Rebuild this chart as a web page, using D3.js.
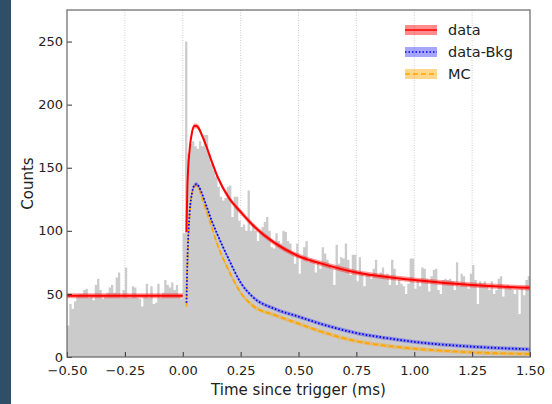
<!DOCTYPE html>
<html>
<head>
<meta charset="utf-8">
<script src="https://cdn.jsdelivr.net/npm/d3@7"></script>
<style>
  body { margin: 0; background: #fff; }
  svg { display: block; font-family: "DejaVu Sans", sans-serif; }
</style>
</head>
<body>
<div id="chart"></div>
<script>
// histogram: 200 bins of 0.01 ms from -0.5 ms
var binStart = -0.5;
var binWidth = 0.01;
var counts = [
  25,42,38,44,48,50,50,53,54,47,48,45,57,62,53,46,48,51,55,57,
  51,63,67,47,53,71,47,47,56,55,47,46,40,48,58,47,56,42,43,58,
  47,51,61,57,55,59,53,57,49,46,
  98,250,
  161,169,171,167,165,171,167,176,176,161,153,148,143,135,127,124,126,135,136,111,
  127,127,108,103,105,100,132,100,105,100,92,98,103,107,111,100,87,86,98,92,
  90,100,99,92,90,82,74,
  90,66,77,87,92,75,78,77,67,75,70,87,82,77,73,70,57,89,74,79,
  78,90,77,65,81,81,60,79,66,56,66,65,62,70,77,64,67,71,65,66,
  57,77,70,57,61,58,56,50,58,78,
  78,54,61,56,71,70,62,52,64,69,70,53,50,61,62,61,62,60,53,75,
  56,66,64,56,54,66,73,61,42,60,58,60,56,53,60,50,53,62,64,48,
  56,57,56,53,50,53,34,54,49,61,64
];

// pre-trigger background level of the fit
var bkgT = [-0.5, 0.0];
var bkgLevel = [48.5, 48.5];

// fitted curves after the trigger
var curveT  = [0.016, 0.02, 0.03, 0.04, 0.05, 0.06, 0.07, 0.08, 0.10, 0.125, 0.15, 0.2, 0.25, 0.3, 0.4, 0.5, 0.6, 0.75, 0.9, 1.0, 1.25, 1.5];
var dataFit = [99, 135, 165, 178, 183, 183, 181, 177, 168, 155, 143, 126, 115, 105, 90, 80, 74, 67, 63, 61, 57, 54.8];
var dataBkg = [43, 75, 115, 130, 136, 137, 135, 131, 121, 108, 97, 77, 59, 48, 38, 32, 26, 19, 14.5, 12, 8.2, 6.1];
var mcFit   = [40, 72, 113, 129, 135, 136, 133, 128, 117, 103, 89, 68, 51, 41, 33, 26.5, 20, 12.5, 8.5, 6.6, 3.7, 2.4];
var bandErr = [2, 1.5, 1.5];

var seriesNames = ["data", "data-Bkg", "MC"];
var xTicks = [-0.5, -0.25, 0, 0.25, 0.5, 0.75, 1.0, 1.25, 1.5];
var yTicks = [0, 50, 100, 150, 200, 250];

var W = 552, H = 404;
var margin = {top: 10, right: 22, bottom: 47, left: 67};
var w = W - margin.left - margin.right;
var h = H - margin.top - margin.bottom;

var colors = ["#ff0000", "#0000ff", "#ffa500"];
var dashes = [null, "1.5,2", "5,3"];

var svg = d3.select("#chart").append("svg")
    .attr("width", W)
    .attr("height", H);

// dark strip at the left edge
svg.append("rect")
    .attr("x", 0).attr("y", 0)
    .attr("width", 11).attr("height", H)
    .attr("fill", "#2d4f68");

var g = svg.append("g")
    .attr("transform", "translate(" + margin.left + "," + margin.top + ")");

var x = d3.scaleLinear().domain([-0.5, 1.5]).range([0, w]);
var y = d3.scaleLinear().domain([0, 275]).range([h, 0]);

// vertical grid
g.selectAll(".grid")
    .data(xTicks.slice(1, -1))
    .enter().append("line")
    .attr("x1", function (d) { return x(d); })
    .attr("x2", function (d) { return x(d); })
    .attr("y1", 0).attr("y2", h)
    .attr("stroke", "#c0c0c0")
    .attr("stroke-width", 0.8)
    .attr("stroke-dasharray", "1,1.5");

// step-filled histogram
var bins = counts.map(function (c, i) { return {t: binStart + i * binWidth, c: c}; });
bins.push({t: binStart + counts.length * binWidth, c: counts[counts.length - 1]});

var histArea = d3.area()
    .curve(d3.curveStepAfter)
    .x(function (d) { return x(d.t); })
    .y0(y(0))
    .y1(function (d) { return y(d.c); });

g.append("path")
    .datum(bins)
    .attr("d", histArea)
    .attr("fill", "#cbcbcb");

// fit curves with bands
function pts(ts, vs) {
    return ts.map(function (t, i) { return {t: t, v: vs[i]}; });
}

var line = d3.line()
    .curve(d3.curveMonotoneX)
    .x(function (d) { return x(d.t); })
    .y(function (d) { return y(d.v); });

function band(err) {
    return d3.area()
        .curve(d3.curveMonotoneX)
        .x(function (d) { return x(d.t); })
        .y0(function (d) { return y(Math.max(0, d.v - err)); })
        .y1(function (d) { return y(d.v + err); });
}

var fits = [
    [pts(bkgT, bkgLevel), pts(curveT, dataFit)],
    [pts(curveT, dataBkg)],
    [pts(curveT, mcFit)]
];
var bandOpacity = [0.4, 0.3, 0.4];

// draw MC first, then data-Bkg, then data on top
[2, 1, 0].forEach(function (s) {
    fits[s].forEach(function (seg) {
        g.append("path")
            .datum(seg)
            .attr("d", band(bandErr[s]))
            .attr("fill", colors[s])
            .attr("opacity", bandOpacity[s]);
        g.append("path")
            .datum(seg)
            .attr("d", line)
            .attr("fill", "none")
            .attr("stroke", colors[s])
            .attr("stroke-width", s == 0 ? 2 : 1.8)
            .attr("stroke-dasharray", dashes[s]);
    });
});

// axes (ticks pointing in)
var fmtX = function (d) { return d3.format(".2f")(d).replace("-", "\u2212"); };
var xAxis = d3.axisBottom(x).tickValues(xTicks).tickFormat(fmtX).tickSizeInner(-5).tickSizeOuter(0).tickPadding(9);
var yAxis = d3.axisLeft(y).tickValues(yTicks).tickSizeInner(-5).tickSizeOuter(0).tickPadding(4);

var gx = g.append("g")
    .attr("transform", "translate(0," + h + ")")
    .call(xAxis);
var gy = g.append("g").call(yAxis);

[gx, gy].forEach(function (ax) {
    ax.select(".domain").remove();
    ax.selectAll(".tick line").attr("stroke", "#333").attr("stroke-width", 1);
    ax.selectAll(".tick text").attr("font-size", 13).attr("fill", "#222")
        .attr("font-family", "DejaVu Sans");
});

// frame
g.append("rect")
    .attr("x", 0).attr("y", 0)
    .attr("width", w).attr("height", h)
    .attr("fill", "none")
    .attr("stroke", "#666")
    .attr("stroke-width", 1.2);

// axis titles
svg.append("text")
    .attr("x", margin.left + w / 2)
    .attr("y", 395)
    .attr("text-anchor", "middle")
    .attr("font-size", 15)
    .attr("fill", "#222")
    .text("Time since trigger (ms)");

svg.append("text")
    .attr("transform", "translate(33," + (margin.top + h / 2) + ") rotate(-90)")
    .attr("text-anchor", "middle")
    .attr("font-size", 15)
    .attr("fill", "#222")
    .text("Counts");

// legend
var legend = svg.selectAll(".legend")
    .data(seriesNames)
    .enter().append("g")
    .attr("class", "legend")
    .attr("transform", function (d, i) {
        return "translate(405," + (30 + i * 22) + ")";
    });

legend.append("rect")
    .attr("x", 0).attr("y", -5)
    .attr("width", 32).attr("height", 10)
    .attr("fill", function (d, i) { return colors[i]; })
    .attr("opacity", function (d, i) { return bandOpacity[i] + 0.05; });

legend.append("line")
    .attr("x1", 0).attr("x2", 32)
    .attr("stroke", function (d, i) { return colors[i]; })
    .attr("stroke-width", 1.5)
    .attr("stroke-dasharray", function (d, i) { return dashes[i]; });

legend.append("text")
    .attr("x", 43)
    .attr("y", 5)
    .attr("font-size", 14.5)
    .attr("fill", "#222")
    .text(function (d) { return d; });
</script>
</body>
</html>
